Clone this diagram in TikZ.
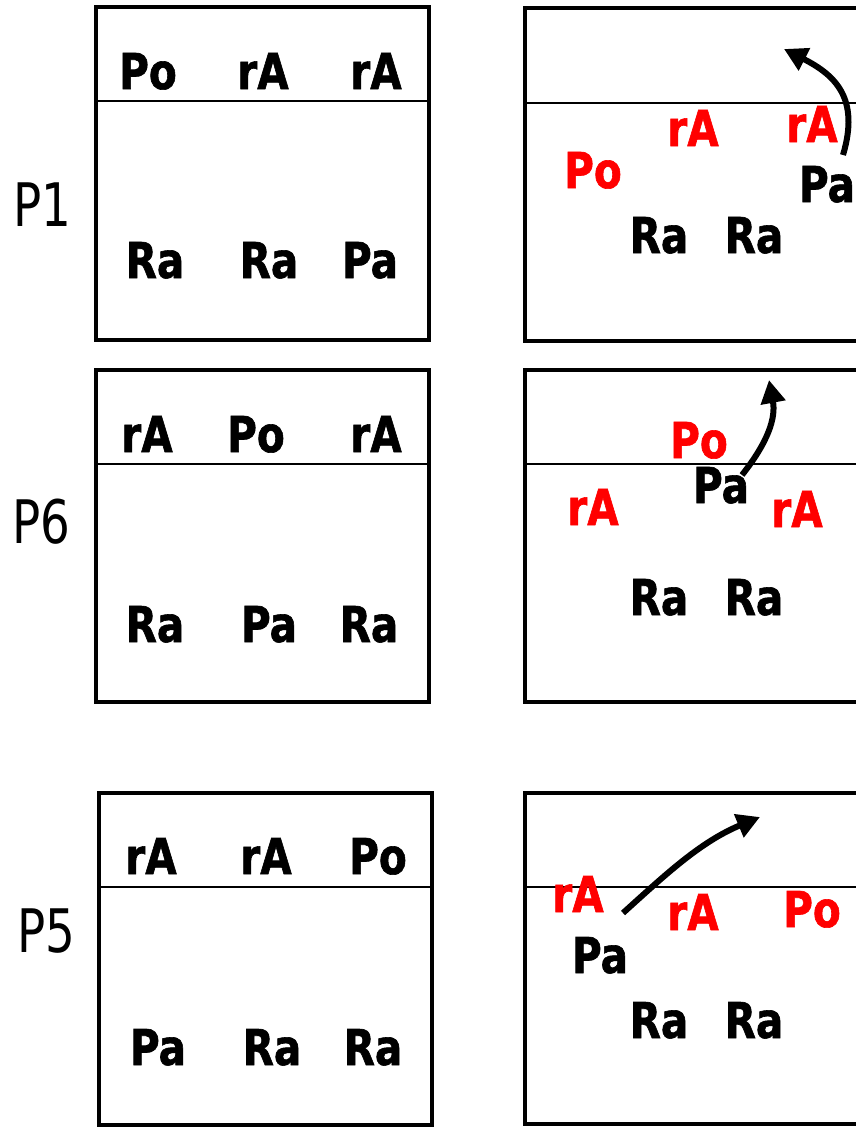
\documentclass[tikz,border=0pt]{standalone}
\usepackage{fontspec}
\setmainfont{DejaVu Sans}[FakeStretch=0.82]
\newfontfamily\heavyfont{DejaVu Sans Bold}[FakeStretch=0.82,FakeBold=1.2]
\newfontfamily\labelfont{DejaVu Sans}[FakeStretch=0.78]
\usetikzlibrary{arrows.meta}
\definecolor{itemred}{RGB}{255,0,0}
\begin{document}
\begin{tikzpicture}[x=1pt,y=-1pt,
  frame/.style={draw=black,line width=3.5pt},
  divider/.style={draw=black,line width=2.2pt},
  item/.style={font=\heavyfont\fontsize{49.4}{50}\selectfont,anchor=base,inner sep=0pt,text=black},
  reditem/.style={item,text=itemred},
  rowlabel/.style={font=\labelfont\fontsize{60}{60}\selectfont,anchor=center,inner sep=0pt},
  move/.style={line width=6pt,-{Triangle[length=23pt,width=24pt]}}]
\useasboundingbox[fill=white] (0,0) rectangle (856,1127);
% ---------- left boxes ----------
\draw[frame] (96,7) rectangle (429,340);
\draw[divider] (96,101) -- (429,101);
\draw[frame] (96,370) rectangle (429,702);
\draw[divider] (96,464) -- (429,464);
\draw[frame] (99,793) rectangle (432,1125);
\draw[divider] (99,887) -- (432,887);
% ---------- right boxes ----------
\draw[frame] (525,8) rectangle (859,341);
\draw[divider] (525,103) -- (859,103);
\draw[frame] (525,370) rectangle (859,702);
\draw[divider] (525,464) -- (859,464);
\draw[frame] (525,793) rectangle (859,1124);
\draw[divider] (525,887) -- (859,887);
% ---------- row labels ----------
\node[rowlabel] (p1) at (42,205) {P1};
\node[rowlabel] (p6) at (41,522) {P6};
\node[rowlabel] (p5) at (46,931) {P5};
% ---------- P1 left ----------
\node[item] (l1a) at (148,89) {Po};
\node[item] (l1b) at (263,89) {rA};
\node[item] (l1c) at (376,89) {rA};
\node[item] (l1d) at (155,278) {Ra};
\node[item] (l1e) at (269,278) {Ra};
\node[item] (l1f) at (370,278) {Pa};
% ---------- P6 left ----------
\node[item] (l2a) at (147,452) {rA};
\node[item] (l2b) at (256,452) {Po};
\node[item] (l2c) at (376,452) {rA};
\node[item] (l2d) at (155,642) {Ra};
\node[item] (l2e) at (269,642) {Pa};
\node[item] (l2f) at (369,642) {Ra};
% ---------- P5 left ----------
\node[item] (l3a) at (151,874) {rA};
\node[item] (l3b) at (266,874) {rA};
\node[item] (l3c) at (378,874) {Po};
\node[item] (l3d) at (158,1065) {Pa};
\node[item] (l3e) at (272,1065) {Ra};
\node[item] (l3f) at (373,1065) {Ra};
% ---------- P1 right ----------
\node[reditem] (r1a) at (593,188) {Po};
\node[reditem] (r1b) at (693,146) {rA};
\node[reditem] (r1c) at (812,142) {rA};
\node[item] (r1d) at (827,202) {Pa};
\node[item] (r1e) at (659,253) {Ra};
\node[item] (r1f) at (754,253) {Ra};
\coordinate (a1s) at (843,155);
\coordinate (a1e) at (784,49);
\draw[move] (a1s) .. controls (860,98) and (835,75) .. (a1e);
% ---------- P6 right ----------
\node[reditem] (r2a) at (699,458) {Po};
\node[item] (r2b) at (721,503) {Pa};
\node[reditem] (r2c) at (593,525) {rA};
\node[reditem] (r2d) at (797,527) {rA};
\node[item] (r2e) at (659,615) {Ra};
\node[item] (r2f) at (754,615) {Ra};
\coordinate (a2s) at (742,475);
\coordinate (a2e) at (769,380);
\draw[move] (a2s) .. controls (768,442) and (776,418) .. (a2e);
% ---------- P5 right ----------
\node[reditem] (r3a) at (578,912) {rA};
\node[reditem] (r3b) at (693,930) {rA};
\node[reditem] (r3c) at (812,927) {Po};
\node[item] (r3d) at (600,973) {Pa};
\node[item] (r3e) at (659,1038) {Ra};
\node[item] (r3f) at (754,1038) {Ra};
\coordinate (a3s) at (623,913);
\coordinate (a3e) at (760,817);
\draw[move] (a3s) .. controls (665,875) and (700,842) .. (a3e);
\end{tikzpicture}
\end{document}
